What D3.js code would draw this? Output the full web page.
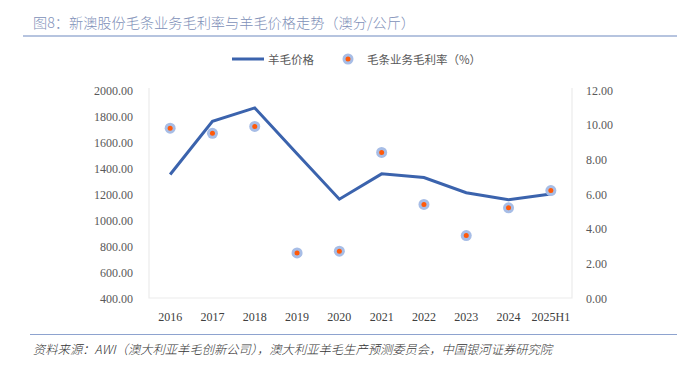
<!DOCTYPE html>
<html><head><meta charset="utf-8">
<script src="https://cdn.jsdelivr.net/npm/d3@7"></script>
<style>body{margin:0;background:#fff}svg{display:block}</style>
</head><body>
<svg id="c" width="683" height="366"></svg>
<script>
const categories = ["2016","2017","2018","2019","2020","2021","2022","2023","2024","2025H1"];
const woolPrice = [1350,1760,1862,1510,1160,1355,1327,1210,1155,1200];
const margin = [9.8,9.5,9.9,2.6,2.7,8.4,5.4,3.6,5.2,6.2];
const leftTicks = [400,600,800,1000,1200,1400,1600,1800,2000];
const rightTicks = [0,2,4,6,8,10,12];
const titleText = "图8：新澳股份毛条业务毛利率与羊毛价格走势（澳分/公斤）";
const sourceText = "资料来源：AWI（澳大利亚羊毛创新公司），澳大利亚羊毛生产预测委员会，中国银河证券研究院";
const legendLine = "羊毛价格";
const legendDot = "毛条业务毛利率（%）";

const svg = d3.select("#c");
const L = 149, R = 572, T = 90, B = 298;
const serif = "'Liberation Serif','DejaVu Serif',serif";
const cjk = "'Noto Sans CJK SC',sans-serif";

const x = d3.scaleBand().domain(categories).range([L, R]);
const yL = d3.scaleLinear().domain([400, 2000]).range([B, T]);
const yR = d3.scaleLinear().domain([0, 12]).range([B, T]);

// title
svg.append("text").attr("x", 33).attr("y", 27.5).attr("font-family", cjk).attr("font-size", 14.2)
  .attr("font-weight", 300).attr("fill", "#8090b8").text(titleText);
svg.append("line").attr("x1", 23).attr("x2", 677).attr("y1", 36).attr("y2", 36)
  .attr("stroke", "#6f89c0").attr("stroke-width", 1.2);

// plot frame
svg.append("path").attr("d", `M${L},${T-2}V${B}H${R}V${T-2}`).attr("fill", "none")
  .attr("stroke", "#ececec").attr("stroke-width", 1.2);

// axes
const gl = svg.append("g").attr("transform", `translate(${L-16},0)`)
  .call(d3.axisLeft(yL).tickValues(leftTicks).tickFormat(d3.format(".2f")).tickSize(0));
const gr = svg.append("g").attr("transform", `translate(${R+14},0)`)
  .call(d3.axisRight(yR).tickValues(rightTicks).tickFormat(d3.format(".2f")).tickSize(0));
const gx = svg.append("g").attr("transform", `translate(0,${B+14})`)
  .call(d3.axisBottom(x).tickSize(0));
[gl, gr, gx].forEach(g => {
  g.select(".domain").remove();
  g.selectAll("text").attr("font-family", serif).attr("font-size", 12).attr("fill", "#595959").attr("dx", 0);
});
gl.selectAll("text").attr("x", 0).attr("dy", "0.34em");
gr.selectAll("text").attr("x", 0).attr("dy", "0.34em");
gx.selectAll("text").attr("fill", "#404040").attr("dy", "0.71em").attr("y", 0);

// line
const line = d3.line().x((d, i) => x(categories[i]) + x.bandwidth() / 2).y(d => yL(d));
svg.append("path").datum(woolPrice).attr("d", line).attr("fill", "none")
  .attr("stroke", "#3b63ad").attr("stroke-width", 3).attr("stroke-linejoin", "miter");

// dots
const dots = svg.append("g").selectAll("g").data(margin).join("g")
  .attr("transform", (d, i) => `translate(${x(categories[i]) + x.bandwidth() / 2},${yR(d)})`);
dots.append("circle").attr("r", 5.5).attr("fill", "#a7bde6");
dots.append("circle").attr("r", 2.5).attr("fill", "#ff5a0a");

// legend
const lg = svg.append("g");
lg.append("line").attr("x1", 232).attr("x2", 264).attr("y1", 59).attr("y2", 59)
  .attr("stroke", "#3b63ad").attr("stroke-width", 3);
lg.append("text").attr("x", 268).attr("y", 63.5).attr("font-family", cjk).attr("font-size", 11.5)
  .attr("fill", "#595959").text(legendLine);
lg.append("circle").attr("cx", 348).attr("cy", 59).attr("r", 5.5).attr("fill", "#a7bde6");
lg.append("circle").attr("cx", 348).attr("cy", 59).attr("r", 2.5).attr("fill", "#ff5a0a");
lg.append("text").attr("x", 367).attr("y", 63.5).attr("font-family", cjk).attr("font-size", 11.5)
  .attr("fill", "#595959").text(legendDot);

// source
svg.append("line").attr("x1", 30).attr("x2", 677).attr("y1", 334.5).attr("y2", 334.5)
  .attr("stroke", "#8ea3cf").attr("stroke-width", 1.2);
svg.append("text").attr("x", 33).attr("y", 353.5).attr("font-family", "'Noto Sans CJK SC',serif")
  .attr("font-size", 12.3).attr("font-weight", 300).attr("font-style", "italic").attr("fill", "#333").text(sourceText);
</script>
</body></html>
